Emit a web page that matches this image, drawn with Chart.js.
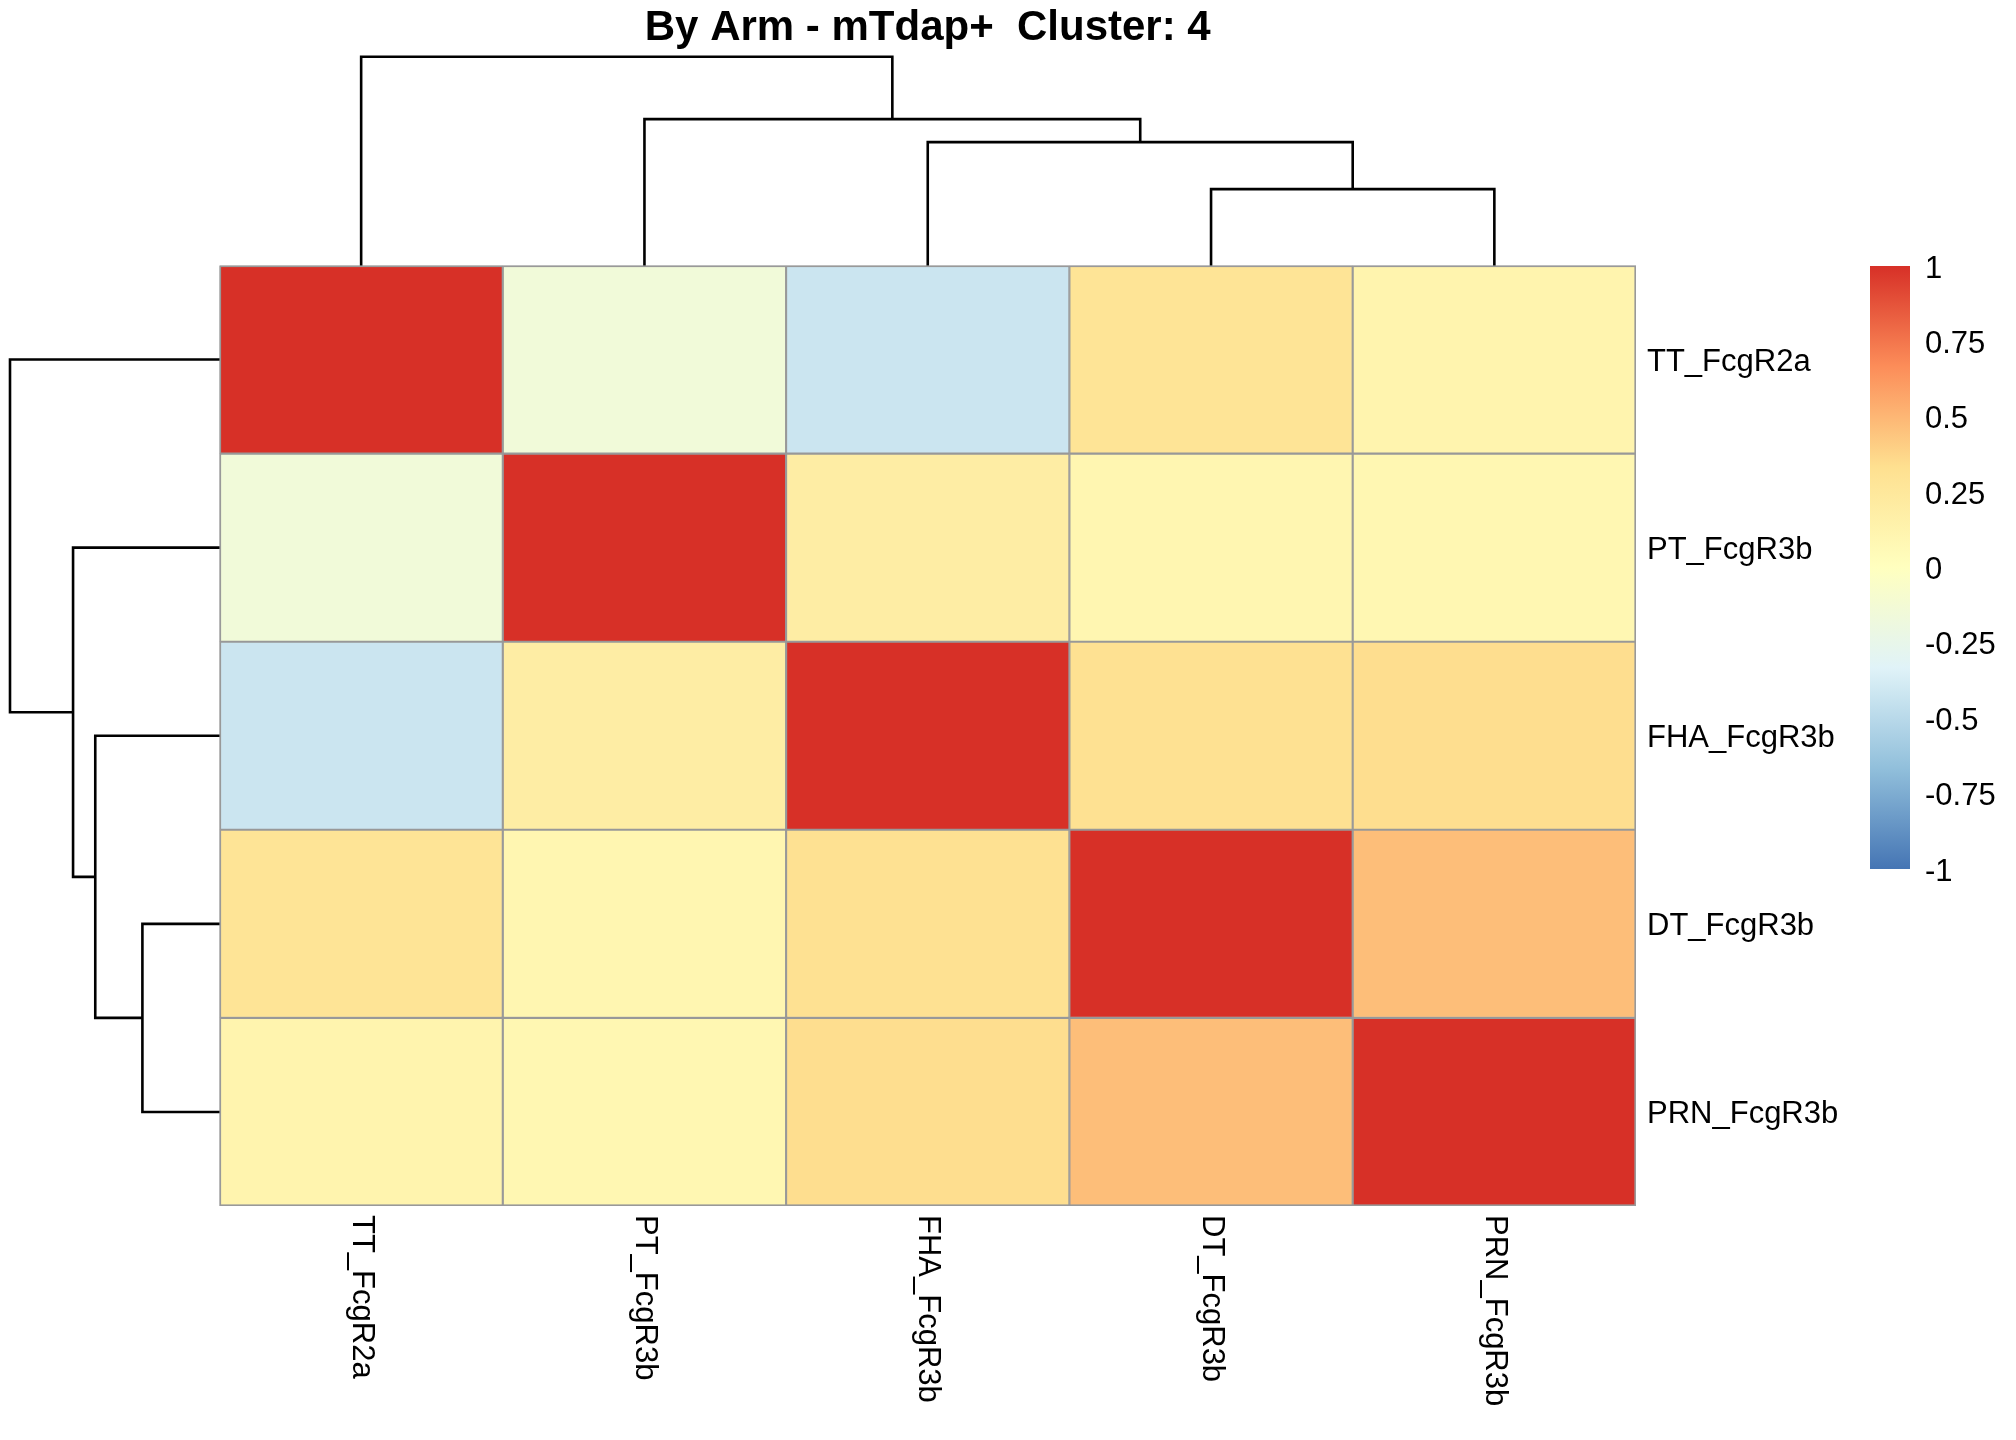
<!DOCTYPE html>
<html>
<head>
<meta charset="utf-8">
<script src="https://cdn.jsdelivr.net/npm/chart.js@4.4.1/dist/chart.umd.min.js"></script>
<style>
  html, body { margin: 0; padding: 0; background: #ffffff; }
  #stage { position: relative; width: 2016px; height: 1440px; background: #ffffff; }
  .layer { position: absolute; left: 0; top: 0; width: 2016px; height: 1440px; pointer-events: none; }
</style>
</head>
<body>
<div id="stage">
  <div class="layer"><canvas id="heat"></canvas></div>
  <div class="layer"><canvas id="colTree"></canvas></div>
  <div class="layer"><canvas id="rowTree"></canvas></div>
  <div class="layer"><canvas id="legendBar"></canvas></div>
</div>
<script>
// ---------------- data ----------------
const titleText = 'By Arm - mTdap+  Cluster: 4';
const colLabels = ['TT_FcgR2a', 'PT_FcgR3b', 'FHA_FcgR3b', 'DT_FcgR3b', 'PRN_FcgR3b'];
const rowLabels = ['TT_FcgR2a', 'PT_FcgR3b', 'FHA_FcgR3b', 'DT_FcgR3b', 'PRN_FcgR3b'];

// correlation values, one array per row (columns in colLabels order)
const rowTT  = [ 1.00, -0.15, -0.42, 0.29, 0.12];
const rowPT  = [-0.15,  1.00,  0.19, 0.10, 0.09];
const rowFHA = [-0.42,  0.19,  1.00, 0.32, 0.34];
const rowDT  = [ 0.29,  0.10,  0.32, 1.00, 0.47];
const rowPRN = [ 0.12,  0.09,  0.34, 0.47, 1.00];

// hierarchical clustering (hclust style: negative = leaf (1-based), positive = earlier merge)
const colTreeMerge   = [[-4, -5], [-3, 1], [-2, 2], [-1, 3]];
const colTreeHeights = [0.366, 0.591, 0.701, 1.000];
const rowTreeMerge   = [[-4, -5], [-3, 1], [-2, 2], [-1, 3]];
const rowTreeHeights = [0.368, 0.593, 0.699, 1.000];

// legend ticks
const legendMin = -1, legendMax = 1, legendStep = 0.25;
const paletteColors = ['#4575B4', '#91BFDB', '#E0F3F8', '#FFFFBF', '#FEE090', '#FC8D59', '#D73027'];

// ---------------- helpers ----------------
const matrix = [rowTT, rowPT, rowFHA, rowDT, rowPRN];
const FONT = '"Liberation Sans", Arial, Helvetica, sans-serif';

function hexToRgb(h) {
  const n = parseInt(h.slice(1), 16);
  return [(n >> 16) & 255, (n >> 8) & 255, n & 255];
}
const paletteRgb = paletteColors.map(hexToRgb);
function colorFor(v) {
  let t = (v - legendMin) / (legendMax - legendMin) * (paletteRgb.length - 1);
  t = Math.max(0, Math.min(paletteRgb.length - 1, t));
  let i = Math.min(Math.floor(t), paletteRgb.length - 2);
  const f = t - i;
  const a = paletteRgb[i], b = paletteRgb[i + 1];
  const c = a.map((x, k) => Math.round(x + (b[k] - x) * f));
  return `rgb(${c[0]},${c[1]},${c[2]})`;
}

function treeSegments(merge, heights) {
  const nodePos = [];
  function pos(id) {
    if (id < 0) return { p: (-id - 1) + 0.5, h: 0 };
    return nodePos[id - 1];
  }
  const segs = [];
  merge.forEach((m, k) => {
    const a = pos(m[0]), b = pos(m[1]);
    const H = heights[k];
    segs.push([{ p: a.p, h: a.h }, { p: a.p, h: H }, { p: b.p, h: H }, { p: b.p, h: b.h }]);
    nodePos.push({ p: (a.p + b.p) / 2, h: H });
  });
  return segs;
}

// layout of the heatmap body (pixels)
const AREA_LEFT = 219.5, AREA_RIGHT_GAP = 380, AREA_TOP = 265.5, AREA_BOTTOM_GAP = 234;

// ---------------- heatmap ----------------
const colLabelPlugin = {
  id: 'colLabels',
  afterDraw(chart) {
    const ctx = chart.ctx;
    const xs = chart.scales.x;
    const y0 = chart.chartArea.bottom + 9;
    ctx.save();
    ctx.font = `31px ${FONT}`;
    ctx.fillStyle = '#000000';
    ctx.textAlign = 'left';
    ctx.textBaseline = 'middle';
    colLabels.forEach((lab, j) => {
      const x = xs.getPixelForValue(j + 0.5);
      ctx.save();
      ctx.translate(x, y0);
      ctx.rotate(Math.PI / 2);
      ctx.fillText(lab, 0, 0);
      ctx.restore();
    });
    ctx.restore();
  }
};
const framePlugin = {
  id: 'frame',
  afterDatasetsDraw(chart) {
    const { left, right, top, bottom } = chart.chartArea;
    const ctx = chart.ctx;
    ctx.save();
    ctx.strokeStyle = '#999999';
    ctx.lineWidth = 1.6;
    ctx.strokeRect(left + 0.8, top + 0.8, right - left - 1.6, bottom - top - 1.6);
    ctx.restore();
  }
};

new Chart(document.getElementById('heat'), {
  type: 'bar',
  data: {
    labels: rowLabels,
    datasets: colLabels.map((c, j) => ({
      label: c,
      data: rowLabels.map(() => [j, j + 1]),
      backgroundColor: matrix.map(r => colorFor(r[j])),
      borderColor: '#999999',
      borderWidth: 1.4,
      borderSkipped: false,
      grouped: false,
      barPercentage: 1,
      categoryPercentage: 1
    }))
  },
  options: {
    indexAxis: 'y',
    responsive: true,
    maintainAspectRatio: false,
    animation: false,
    events: [],
    layout: { padding: { left: AREA_LEFT, right: 0, top: 0, bottom: AREA_BOTTOM_GAP } },
    plugins: {
      legend: { display: false },
      tooltip: { enabled: false },
      title: {
        display: true,
        text: titleText,
        fullSize: false,
        color: '#000000',
        font: { size: 42, weight: 'bold', family: FONT, lineHeight: 1.2 },
        padding: { top: 2.8, bottom: AREA_TOP - 2.8 - 50.4 }
      }
    },
    scales: {
      x: { type: 'linear', min: 0, max: colLabels.length, display: false },
      y: {
        type: 'category',
        position: 'right',
        grid: { display: false, drawTicks: false },
        border: { display: false },
        ticks: { color: '#000000', font: { size: 31, family: FONT }, padding: 11, labelOffset: 3 },
        afterFit: (s) => { s.width = AREA_RIGHT_GAP; }
      }
    }
  },
  plugins: [framePlugin, colLabelPlugin]
});

// ---------------- dendrograms ----------------
function treeDatasets(segs, horizontalLeaves) {
  return segs.map(seg => ({
    data: seg.map(pt => horizontalLeaves ? { x: pt.p, y: pt.h } : { x: pt.h, y: pt.p }),
    showLine: true,
    borderColor: '#000000',
    borderWidth: 2.6,
    pointRadius: 0,
    pointHoverRadius: 0,
    tension: 0,
    fill: false,
    clip: false,
    borderJoinStyle: 'miter',
    borderCapStyle: 'butt'
  }));
}

new Chart(document.getElementById('colTree'), {
  type: 'scatter',
  data: { datasets: treeDatasets(treeSegments(colTreeMerge, colTreeHeights), true) },
  options: {
    responsive: true, maintainAspectRatio: false, animation: false, events: [],
    layout: { padding: { left: AREA_LEFT, right: AREA_RIGHT_GAP, top: 56.7, bottom: 1440 - AREA_TOP } },
    plugins: { legend: { display: false }, tooltip: { enabled: false } },
    scales: {
      x: { type: 'linear', min: 0, max: colLabels.length, display: false },
      y: { type: 'linear', min: 0, max: 1, display: false }
    }
  }
});

new Chart(document.getElementById('rowTree'), {
  type: 'scatter',
  data: { datasets: treeDatasets(treeSegments(rowTreeMerge, rowTreeHeights), false) },
  options: {
    responsive: true, maintainAspectRatio: false, animation: false, events: [],
    layout: { padding: { left: 10, right: 2016 - AREA_LEFT, top: AREA_TOP, bottom: AREA_BOTTOM_GAP } },
    plugins: { legend: { display: false }, tooltip: { enabled: false } },
    scales: {
      x: { type: 'linear', min: 0, max: 1, reverse: true, display: false },
      y: { type: 'linear', min: 0, max: rowLabels.length, reverse: true, display: false }
    }
  }
});

// ---------------- colour legend ----------------
new Chart(document.getElementById('legendBar'), {
  type: 'bar',
  data: {
    labels: [''],
    datasets: [{
      data: [[legendMin, legendMax]],
      backgroundColor: (context) => {
        const chart = context.chart;
        const area = chart.chartArea;
        if (!area) return paletteColors[3];
        const g = chart.ctx.createLinearGradient(0, area.bottom, 0, area.top);
        paletteColors.forEach((c, i) => g.addColorStop(i / (paletteColors.length - 1), c));
        return g;
      },
      borderWidth: 0,
      barPercentage: 1,
      categoryPercentage: 1
    }]
  },
  options: {
    responsive: true, maintainAspectRatio: false, animation: false, events: [],
    layout: { padding: { left: 1870, right: 0, top: 266, bottom: 571 } },
    plugins: { legend: { display: false }, tooltip: { enabled: false } },
    scales: {
      x: { type: 'category', display: false },
      y: {
        type: 'linear',
        position: 'right',
        min: legendMin,
        max: legendMax,
        grid: { display: false, drawTicks: false },
        border: { display: false },
        ticks: {
          stepSize: legendStep,
          color: '#000000',
          font: { size: 31, family: FONT },
          padding: 15,
          labelOffset: 3,
          callback: (v) => String(Number(Number(v).toFixed(2)))
        },
        afterFit: (s) => { s.width = 106; }
      }
    }
  }
});
</script>
</body>
</html>
